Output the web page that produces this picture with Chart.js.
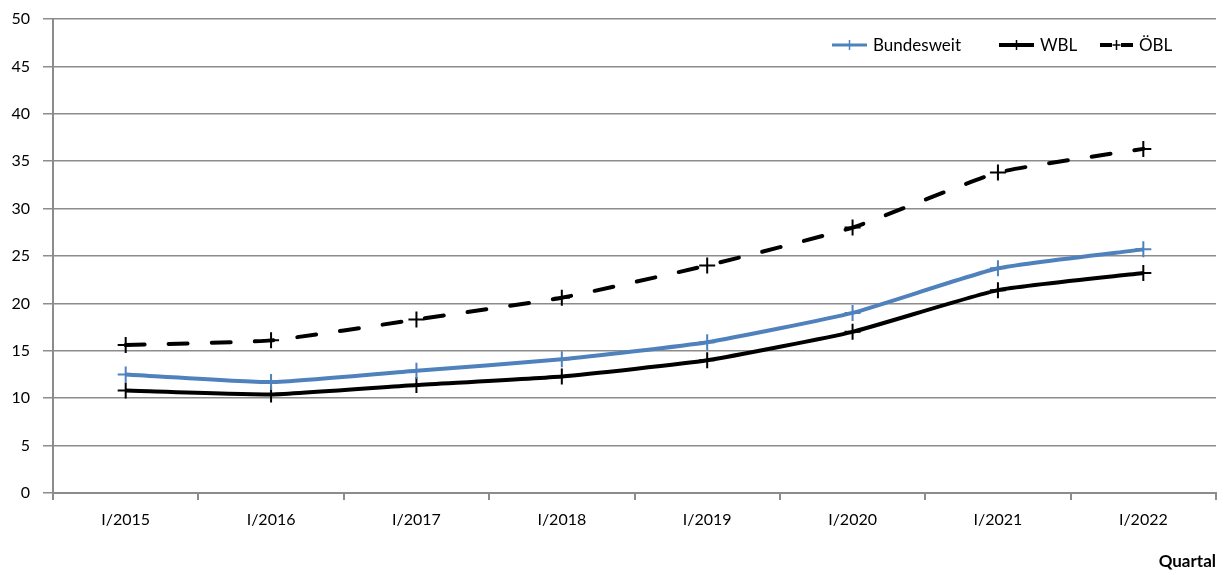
<!DOCTYPE html>
<html>
<head>
<meta charset="utf-8">
<script src="https://cdn.jsdelivr.net/npm/chart.js@4"></script>
<style>
  html, body { margin: 0; padding: 0; background: #fff; }
  #wrap { width: 1226px; height: 575px; }
</style>
</head>
<body>
<div id="wrap"><canvas id="chart" width="1226" height="575"></canvas></div>
<script>
const quarters = ["I/2015", "I/2016", "I/2017", "I/2018", "I/2019", "I/2020", "I/2021", "I/2022"];
const bundesweit = [12.5, 11.7, 12.9, 14.1, 15.9, 19.0, 23.7, 25.7];
const wbl = [10.8, 10.4, 11.4, 12.3, 14.0, 17.0, 21.4, 23.2];
const oebl = [15.6, 16.1, 18.3, 20.6, 24.0, 28.0, 33.8, 36.3];

const gridGray = "#8c8c8c";
const blue = "#4f81bd";

// legend drawn inside the plot, top right, like the original
const innerLegend = {
    id: "innerLegend",
    afterDraw(chart) {
        const ctx = chart.ctx;
        const items = [
            { x: 832, label: "Bundesweit", ds: chart.data.datasets[0] },
            { x: 999, label: "WBL", ds: chart.data.datasets[1] },
            { x: 1100, label: "ÖBL", ds: chart.data.datasets[2] }
        ];
        const y = 45;
        ctx.save();
        items.forEach(it => {
            const len = it.ds.borderDash ? 33 : 35;
            ctx.strokeStyle = it.ds.borderColor;
            ctx.lineWidth = it.ds.borderColor === blue ? 3 : 4;
            ctx.setLineDash(it.ds.borderDash ? [12, 9] : []);
            ctx.beginPath();
            ctx.moveTo(it.x, y);
            ctx.lineTo(it.x + len, y);
            ctx.stroke();
            ctx.setLineDash([]);
            ctx.lineWidth = 1.5;
            ctx.beginPath();
            ctx.moveTo(it.x + len / 2, y - 5);
            ctx.lineTo(it.x + len / 2, y + 5);
            if (it.ds.borderDash) {
                ctx.moveTo(it.x + len / 2 - 4, y);
                ctx.lineTo(it.x + len / 2 + 4, y);
            }
            ctx.stroke();
            ctx.fillStyle = "#000";
            ctx.font = "17px Lato";
            ctx.textBaseline = "middle";
            ctx.fillText(it.label, it.x + len + 6, y + 1);
        });
        ctx.restore();
    }
};

new Chart(document.getElementById("chart"), {
    type: "line",
    data: {
        labels: quarters,
        datasets: [
            {
                label: "Bundesweit",
                data: bundesweit,
                borderColor: blue,
                borderWidth: 4,
                pointStyle: "cross",
                pointRadius: 8,
                pointBorderWidth: 2,
                pointBorderColor: blue,
                tension: 0.15
            },
            {
                label: "WBL",
                data: wbl,
                borderColor: "#000",
                borderWidth: 4,
                pointStyle: "cross",
                pointRadius: 8,
                pointBorderWidth: 2,
                pointBorderColor: "#000",
                tension: 0.15
            },
            {
                label: "ÖBL",
                data: oebl,
                borderColor: "#000",
                borderWidth: 4,
                borderDash: [19, 24],
                borderCapStyle: "round",
                pointStyle: "cross",
                pointRadius: 8,
                pointBorderWidth: 2,
                pointBorderColor: "#000",
                tension: 0.15
            }
        ]
    },
    options: {
        responsive: false,
        animation: false,
        layout: { padding: { top: 19, right: 8, left: 0, bottom: 0 } },
        plugins: {
            legend: { display: false },
            tooltip: { enabled: false }
        },
        scales: {
            x: {
                offset: true,
                grid: {
                    offset: true,
                    drawOnChartArea: false,
                    color: gridGray,
                    lineWidth: 2,
                    tickLength: 7
                },
                border: { color: gridGray, width: 2 },
                ticks: {
                    color: "#000",
                    font: { family: "Lato", size: 16 },
                    padding: 10,
                    maxRotation: 0
                },
                title: {
                    display: true,
                    text: "Quartal",
                    align: "end",
                    color: "#000",
                    font: { family: "Lato", size: 17, weight: "bold" },
                    padding: { top: 20, bottom: 3 }
                },
                afterFit: s => { s.height = 82; s.paddingLeft = 0; s.paddingRight = 0; }
            },
            y: {
                min: 0,
                max: 50,
                ticks: {
                    stepSize: 5,
                    color: "#000",
                    font: { family: "Lato", size: 16 },
                    padding: 13
                },
                grid: {
                    color: gridGray,
                    lineWidth: 1.5,
                    tickLength: 10
                },
                border: { color: gridGray, width: 2 },
                afterFit: s => { s.width = 53; s.paddingTop = 0; s.paddingBottom = 0; }
            }
        }
    },
    plugins: [innerLegend]
});
</script>
</body>
</html>
